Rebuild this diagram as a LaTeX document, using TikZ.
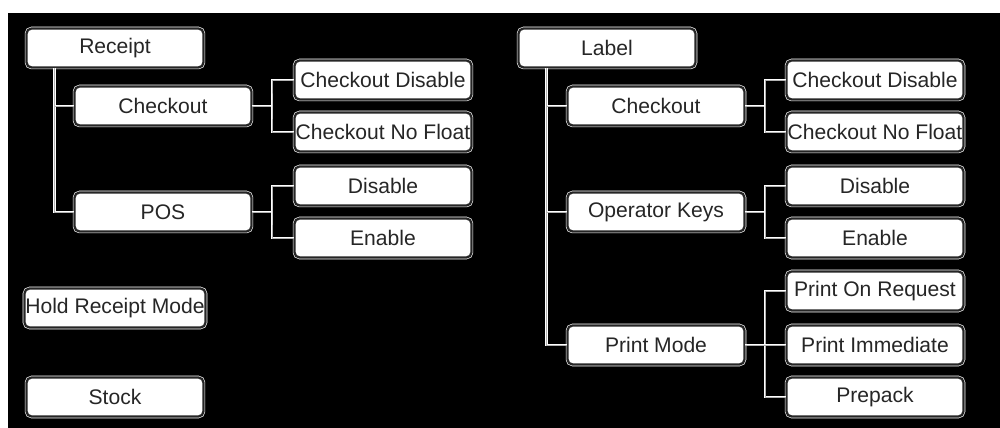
\documentclass[tikz,border=0pt]{standalone}
\usepackage{fontspec}
\setmainfont{Liberation Sans}

\begin{document}
\begin{tikzpicture}[x=0.02cm, y=-0.02cm,
		box/.style={draw=white, double=black!85, double distance=1.3pt, line width=0.35pt,
			fill=white, rounded corners=0.1cm, minimum width=3.54cm, minimum height=0.78cm,
			inner sep=0.5pt, text=black!85, font=\fontsize{12}{14}\selectfont},
		link/.style={draw=white, double=gray!60, double distance=0.5pt, line width=0.5pt}]
			
			\fill[white] (0,0) rectangle (1000,428);
			\fill[black] (8,13) rectangle (1000,428);
			\useasboundingbox (0,0) rectangle (1000,428);
			
			\node[box] (receipt) at (115,48) {Receipt};
			\node[box] (chk1) at (163,106) {Checkout};
			\node[box] (cd1) at (383,80) {Checkout Disable};
			\node[box] (cnf1) at (383,132) {Checkout No Float};
			\node[box] (pos1) at (163,212) {POS};
			\node[box] (dis1) at (383,186) {Disable};
			\node[box] (en1) at (383,238) {Enable};
			\node[box] (hold) at (115,308) {Hold Receipt Mode};
			\node[box] (stock) at (115,397) {Stock};
			
			\node[box] (label) at (607,48) {Label};
			\node[box] (chk2) at (656,106) {Checkout};
			\node[box] (cd2) at (875,80) {Checkout Disable};
			\node[box] (cnf2) at (875,132) {Checkout No Float};
			\node[box] (opk) at (656,212) {Operator Keys};
			\node[box] (dis2) at (875,186) {Disable};
			\node[box] (en2) at (875,238) {Enable};
			\node[box] (pm) at (656,345) {Print Mode};
			\node[box] (por) at (875,291) {Print On Request};
			\node[box] (pim) at (875,345) {Print Immediate};
			\node[box] (prep) at (875,397) {Prepack};
			
			% receipt side
			\coordinate (t1) at (55,106);
			\coordinate (f1) at (272,106);
			\coordinate (f2) at (272,212);
			
			\draw[link] ([xshift=0.56cm]receipt.south west) |- (pos1.west);
			\draw[link] (t1) -- (chk1.west);
			\draw[link] (chk1.east) -- (f1);
			\draw[link] (cd1.west) -| (f1) |- (cnf1.west);
			\draw[link] (pos1.east) -- (f2);
			\draw[link] (dis1.west) -| (f2) |- (en1.west);
			
			% label side
			\coordinate (t2) at (547,106);
			\coordinate (t3) at (547,212);
			\coordinate (f3) at (765,106);
			\coordinate (f4) at (765,212);
			\coordinate (f5) at (765,345);
			
			\draw[link] ([xshift=0.56cm]label.south west) |- (pm.west);
			\draw[link] (t2) -- (chk2.west);
			\draw[link] (t3) -- (opk.west);
			\draw[link] (chk2.east) -- (f3);
			\draw[link] (cd2.west) -| (f3) |- (cnf2.west);
			\draw[link] (opk.east) -- (f4);
			\draw[link] (dis2.west) -| (f4) |- (en2.west);
			\draw[link] (por.west) -| (f5) |- (prep.west);
			\draw[link] (pm.east) -- (pim.west);
			
		\end{tikzpicture}
\end{document}
